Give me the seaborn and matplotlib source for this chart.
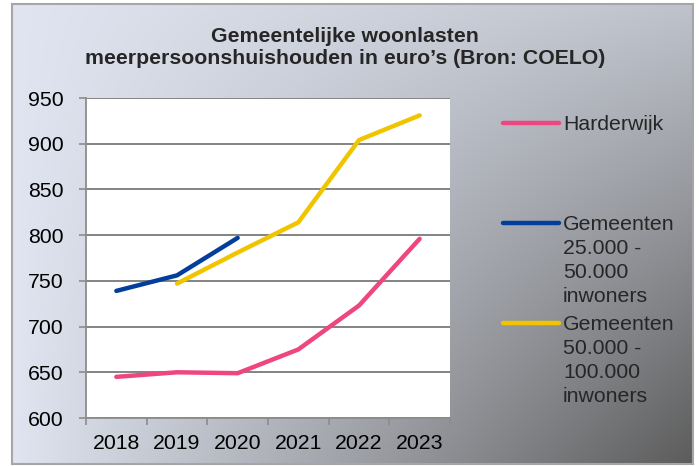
import numpy as np
import pandas as pd
import matplotlib
matplotlib.use('Agg')
import matplotlib.pyplot as plt
import seaborn as sns
from matplotlib.lines import Line2D
from matplotlib.patches import Rectangle

# data
years = [2018, 2019, 2020, 2021, 2022, 2023]
harderwijk = [645, 650, 649, 675, 723, 796]
gem_25_50 = [739, 756, 797, None, None, None]
gem_50_100 = [None, 747, 781, 814, 904, 931]

series_names = ['Harderwijk',
                'Gemeenten 25.000 - 50.000 inwoners',
                'Gemeenten 50.000 - 100.000 inwoners']
legend_labels = ['Harderwijk',
                 'Gemeenten\n25.000 -\n50.000\ninwoners',
                 'Gemeenten\n50.000 -\n100.000\ninwoners']
colors = ['#ee4680', '#023e9a', '#f0c500']
y_ticks = [600, 650, 700, 750, 800, 850, 900, 950]
title = 'Gemeentelijke woonlasten\nmeerpersoonshuishouden in euro\u2019s (Bron: COELO)'

df = pd.DataFrame({
    'jaar': years * 3,
    'reeks': [series_names[0]] * 6 + [series_names[1]] * 6 + [series_names[2]] * 6,
    'waarde': harderwijk + gem_25_50 + gem_50_100,
})
df['waarde'] = pd.to_numeric(df['waarde'], errors='coerce')
df = df.dropna()

sns.set_theme(style='white')
plt.rcParams['font.family'] = ['Liberation Sans', 'DejaVu Sans']

W, H = 699, 466
fig = plt.figure(figsize=(W / 100, H / 100), dpi=100)
fig.patch.set_facecolor('white')

# background panel with gradient (pixel coordinates)
bg = fig.add_axes([0, 0, 1, 1])
bg.set_xlim(0, W)
bg.set_ylim(H, 0)
bg.axis('off')
u = np.linspace(0, 1, 300)[None, :]
v = np.linspace(0, 1, 200)[:, None]
t = u * (0.25 + 0.75 * v)
light = np.array([224, 229, 241]) / 255
dark = np.array([92, 92, 92]) / 255
grad = light[None, None, :] * (1 - t[..., None]) + dark[None, None, :] * t[..., None]
bg.imshow(grad, extent=[12, 693, 464, 4], aspect='auto', interpolation='bilinear')
bg.add_patch(Rectangle((12, 4), 681, 460, fill=False, edgecolor='#a6a6a6', lw=1.5))

# plot area
ax = fig.add_axes([86 / W, 1 - 418 / H, (450 - 86) / W, (418 - 98) / H])
ax.set_facecolor('white')
sns.lineplot(data=df, x='jaar', y='waarde', hue='reeks', hue_order=series_names,
             palette=dict(zip(series_names, colors)), linewidth=3.2,
             solid_capstyle='round', legend=False, ax=ax)

ax.set_xlim(2017.5, 2023.5)
ax.set_ylim(600, 950)
ax.set_yticks(y_ticks)
ax.set_xticks(years)
ax.set_xticklabels([str(y) for y in years])
ax.set_xticks([y - 0.5 for y in years] + [2023.5], minor=True)
ax.set_xlabel('')
ax.set_ylabel('')
ax.grid(axis='y', color='#7a7a7a', lw=1.3)
ax.set_axisbelow(True)
for s in ['top', 'right']:
    ax.spines[s].set_visible(False)
for s in ['left', 'bottom']:
    ax.spines[s].set_color('#8c8c8c')
    ax.spines[s].set_linewidth(1.3)
ax.tick_params(axis='y', left=True, length=5, width=1.2, color='#8c8c8c',
               labelsize=15.3, pad=11, labelcolor='black')
ax.tick_params(axis='x', which='major', bottom=True, length=0, pad=11.5,
               labelsize=15.3, labelcolor='black')
ax.tick_params(axis='x', which='minor', bottom=True, length=5, width=1.2,
               color='#8c8c8c')

# title
bg.text(345, 27, title, ha='center', va='top', fontsize=15.3,
        fontweight='bold', multialignment='center', linespacing=1.17)

# legend
for lab, col, yt in zip(legend_labels, colors, [115, 215, 315]):
    bg.add_line(Line2D([503, 559], [yt + 8, yt + 8], color=col, lw=3.2,
                       solid_capstyle='round'))
    bg.text(563, yt, lab, ha='left', va='top', fontsize=15.3, linespacing=1.33)

plt.savefig('out.png', dpi=100)
plt.close()
